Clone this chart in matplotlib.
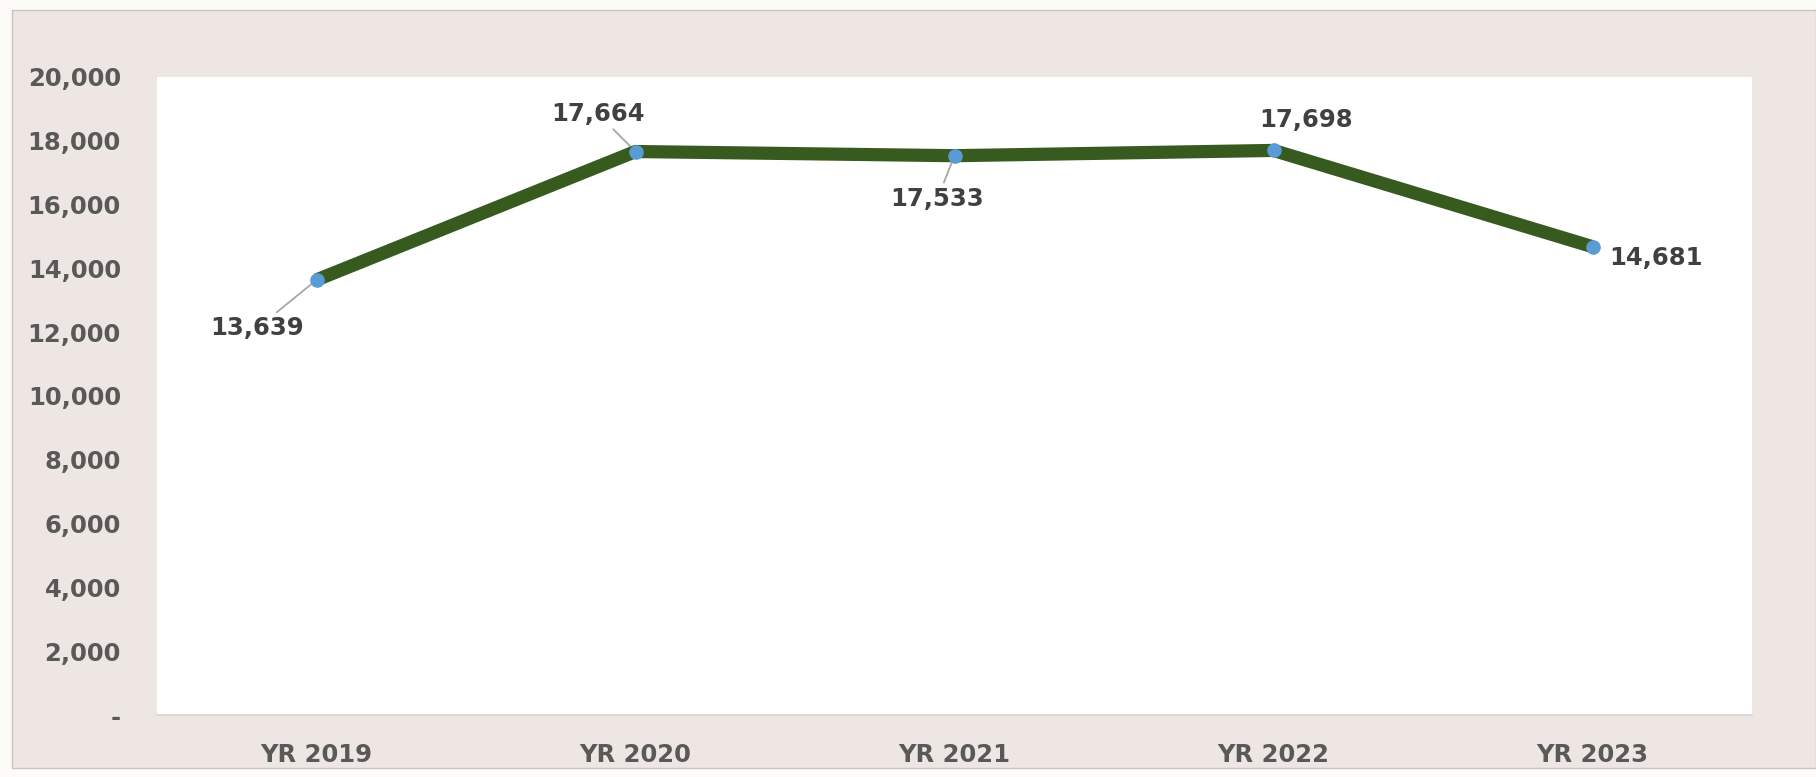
import matplotlib
matplotlib.use('Agg')
import matplotlib.pyplot as plt
from matplotlib.patches import Rectangle
from matplotlib.ticker import FuncFormatter, MultipleLocator

# data
YEARS = ['YR 2019', 'YR 2020', 'YR 2021', 'YR 2022', 'YR 2023']
VALUES = [13639, 17664, 17533, 17698, 14681]

# label offsets in pixels (dx, dy) and whether a leader line is drawn
LABEL_OFFSETS = [(-59, -48), (-38, 38), (-17, -43), (33, 30), (63, -11)]
LEADERS = [True, True, True, False, False]

LINE_COLOR = '#375b1f'
MARKER_COLOR = '#5b9bd5'
PANEL_COLOR = '#eee6e2'
TICK_COLOR = '#595959'
LABEL_COLOR = '#404040'

plt.rcParams.update({
    'font.family': 'DejaVu Sans',
    'font.weight': 'bold',
    'font.size': 17.5,
})

fig = plt.figure(figsize=(18.16, 7.77), dpi=100, facecolor='#fdfbf8')

# beige chart panel with a thin grey border (behind the axes)
fig.patches.append(Rectangle((12 / 1816, 1 - 768 / 777), 1 - 12 / 1816, (768 - 10) / 777,
                             transform=fig.transFigure, facecolor=PANEL_COLOR,
                             edgecolor='#c8c4c0', linewidth=1.0, zorder=-5))

ax = fig.add_axes([157 / 1816, 1 - 715 / 777, (1752 - 157) / 1816, (715 - 77) / 777])
ax.set_zorder(1)
ax.set_facecolor('white')

x = list(range(len(YEARS)))
ax.plot(x, VALUES, color=LINE_COLOR, linewidth=9.5, solid_capstyle='butt',
        solid_joinstyle='miter', zorder=2)
ax.plot(x, VALUES, linestyle='none', marker='o', markersize=9.5,
        markerfacecolor=MARKER_COLOR, markeredgecolor=MARKER_COLOR, zorder=3)

for xi, val, (dx, dy), lead in zip(x, VALUES, LABEL_OFFSETS, LEADERS):
    props = None
    if lead:
        props = dict(arrowstyle='-', color='#a6a6a6', lw=1.3, shrinkA=1, shrinkB=0)
    ax.annotate(f'{val:,}', xy=(xi, val), xytext=(dx, dy), textcoords='offset pixels',
                ha='center', va='center', fontsize=17.5, fontweight='bold',
                color=LABEL_COLOR, arrowprops=props, zorder=1)

ax.set_xlim(-0.5, len(YEARS) - 0.5)
ax.set_ylim(0, 20000)
ax.set_xticks(x)
ax.set_xticklabels(YEARS)
ax.yaxis.set_major_locator(MultipleLocator(2000))
ax.yaxis.set_major_formatter(FuncFormatter(lambda v, p: '-' if v == 0 else f'{int(v):,}'))

ax.tick_params(axis='y', length=0, pad=26, colors=TICK_COLOR, labelsize=17.5)
ax.tick_params(axis='x', length=0, pad=20, colors=TICK_COLOR, labelsize=17.5)
for lab in ax.get_xticklabels() + ax.get_yticklabels():
    lab.set_fontweight('bold')

for side in ['top', 'left', 'right']:
    ax.spines[side].set_visible(False)
ax.spines['bottom'].set_color('#d9d9d9')
ax.spines['bottom'].set_linewidth(1.5)

fig.savefig('out.png', dpi=100, facecolor=fig.get_facecolor())
